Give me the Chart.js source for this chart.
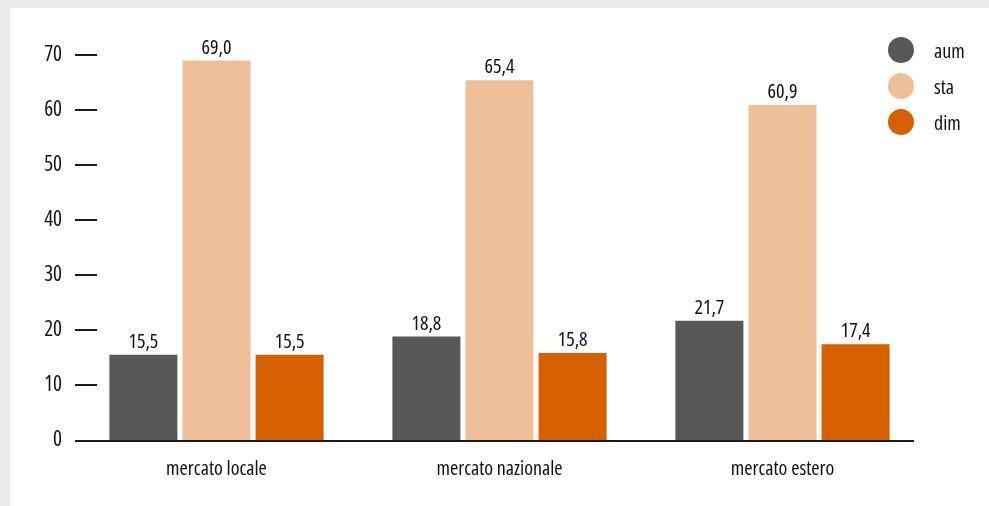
<!DOCTYPE html>
<html>
<head>
<meta charset="utf-8">
<script src="https://cdn.jsdelivr.net/npm/chart.js@4.4.1/dist/chart.umd.min.js"></script>
<style>
  html,body{margin:0;padding:0;background:#ebebeb;width:989px;height:506px;overflow:hidden}
  .panel{position:absolute;left:10px;top:8px;right:0;bottom:0;background:#fff}
  #chart{position:absolute;left:0;top:0}
  .legend{position:absolute;left:888px;top:37px;font-family:"Open Sans",sans-serif;font-stretch:condensed;font-size:20px;color:#111}
  .legend div{display:flex;align-items:center;height:26px;margin-bottom:10px}
  .legend span.dot{display:inline-block;width:26px;height:26px;border-radius:50%;margin-right:20px}
</style>
</head>
<body>
<div class="panel"></div>
<canvas id="chart" width="989" height="506"></canvas>
<div class="legend" id="legend"></div>
<script>
const categories = ['mercato locale', 'mercato nazionale', 'mercato estero']
const seriesNames = ['aum', 'sta', 'dim']
const aum = [15.5, 18.8, 21.7]
const sta = [69.0, 65.4, 60.9]
const dim = [15.5, 15.8, 17.4]
const yTicks = [0, 10, 20, 30, 40, 50, 60, 70]
const colors = ['#585857', '#efbf9a', '#d65f00']

// Open Sans squeezed via font-stretch; weight carries the stretch keyword into Chart.js font strings
const FAMILY = '"Open Sans", sans-serif'
const WEIGHT = '400 condensed'
const fmt = v => v.toFixed(1).replace('.', ',')

// legend on the right, outside the canvas
const legendEl = document.getElementById('legend')
seriesNames.forEach((name, i) => {
  const row = document.createElement('div')
  row.innerHTML = `<span class="dot" style="background:${colors[i]}"></span>${name}`
  legendEl.appendChild(row)
})

// value labels above each bar
const valueLabels = {
  id: 'valueLabels',
  afterDatasetsDraw(chart){
    const ctx = chart.ctx
    ctx.save()
    ctx.font = WEIGHT + ' 20px ' + FAMILY
    ctx.fillStyle = '#111'
    ctx.textAlign = 'center'
    ctx.textBaseline = 'alphabetic'
    chart.data.datasets.forEach((ds, di) => {
      chart.getDatasetMeta(di).data.forEach((bar, i) => {
        ctx.fillText(fmt(ds.data[i]), bar.x, bar.y - 7)
      })
    })
    ctx.restore()
  }
}

// short tick dashes on the left and the baseline
const axisMarks = {
  id: 'axisMarks',
  beforeDatasetsDraw(chart){
    const ctx = chart.ctx
    const area = chart.chartArea
    const y = chart.scales.y
    ctx.save()
    ctx.strokeStyle = '#1a1a1a'
    ctx.lineWidth = 2
    yTicks.forEach(t => {
      if(t === 0) return
      const py = Math.round(y.getPixelForValue(t))
      ctx.beginPath()
      ctx.moveTo(area.left, py)
      ctx.lineTo(area.left + 22, py)
      ctx.stroke()
    })
    const by = Math.round(y.getPixelForValue(0)) + 1
    ctx.beginPath()
    ctx.moveTo(area.left, by)
    ctx.lineTo(area.right - 10, by)
    ctx.stroke()
    ctx.restore()
  }
}

new Chart(document.getElementById('chart'), {
  type: 'bar',
  data: {
    labels: categories,
    datasets: [
      {label: seriesNames[0], data: aum, backgroundColor: colors[0]},
      {label: seriesNames[1], data: sta, backgroundColor: colors[1]},
      {label: seriesNames[2], data: dim, backgroundColor: colors[2]}
    ]
  },
  options: {
    responsive: false,
    animation: false,
    layout: {padding: {top: 55, right: 65, left: 0, bottom: 0}},
    datasets: {bar: {barPercentage: 0.93, categoryPercentage: 0.775}},
    plugins: {legend: {display: false}, tooltip: {enabled: false}},
    scales: {
      x: {
        grid: {display: false},
        border: {display: false},
        ticks: {color: '#111', font: {family: FAMILY, weight: WEIGHT, size: 20}, padding: 9},
        afterFit(s){ s.height = 66 }
      },
      y: {
        min: 0, max: 70,
        afterBuildTicks(s){ s.ticks = yTicks.map(v => ({value: v})) },
        grid: {display: false},
        border: {display: false},
        ticks: {color: '#111', font: {family: FAMILY, weight: WEIGHT, size: 21}, padding: 5},
        afterFit(s){ s.width = 75 }
      }
    }
  },
  plugins: [axisMarks, valueLabels]
})
</script>
</body>
</html>
